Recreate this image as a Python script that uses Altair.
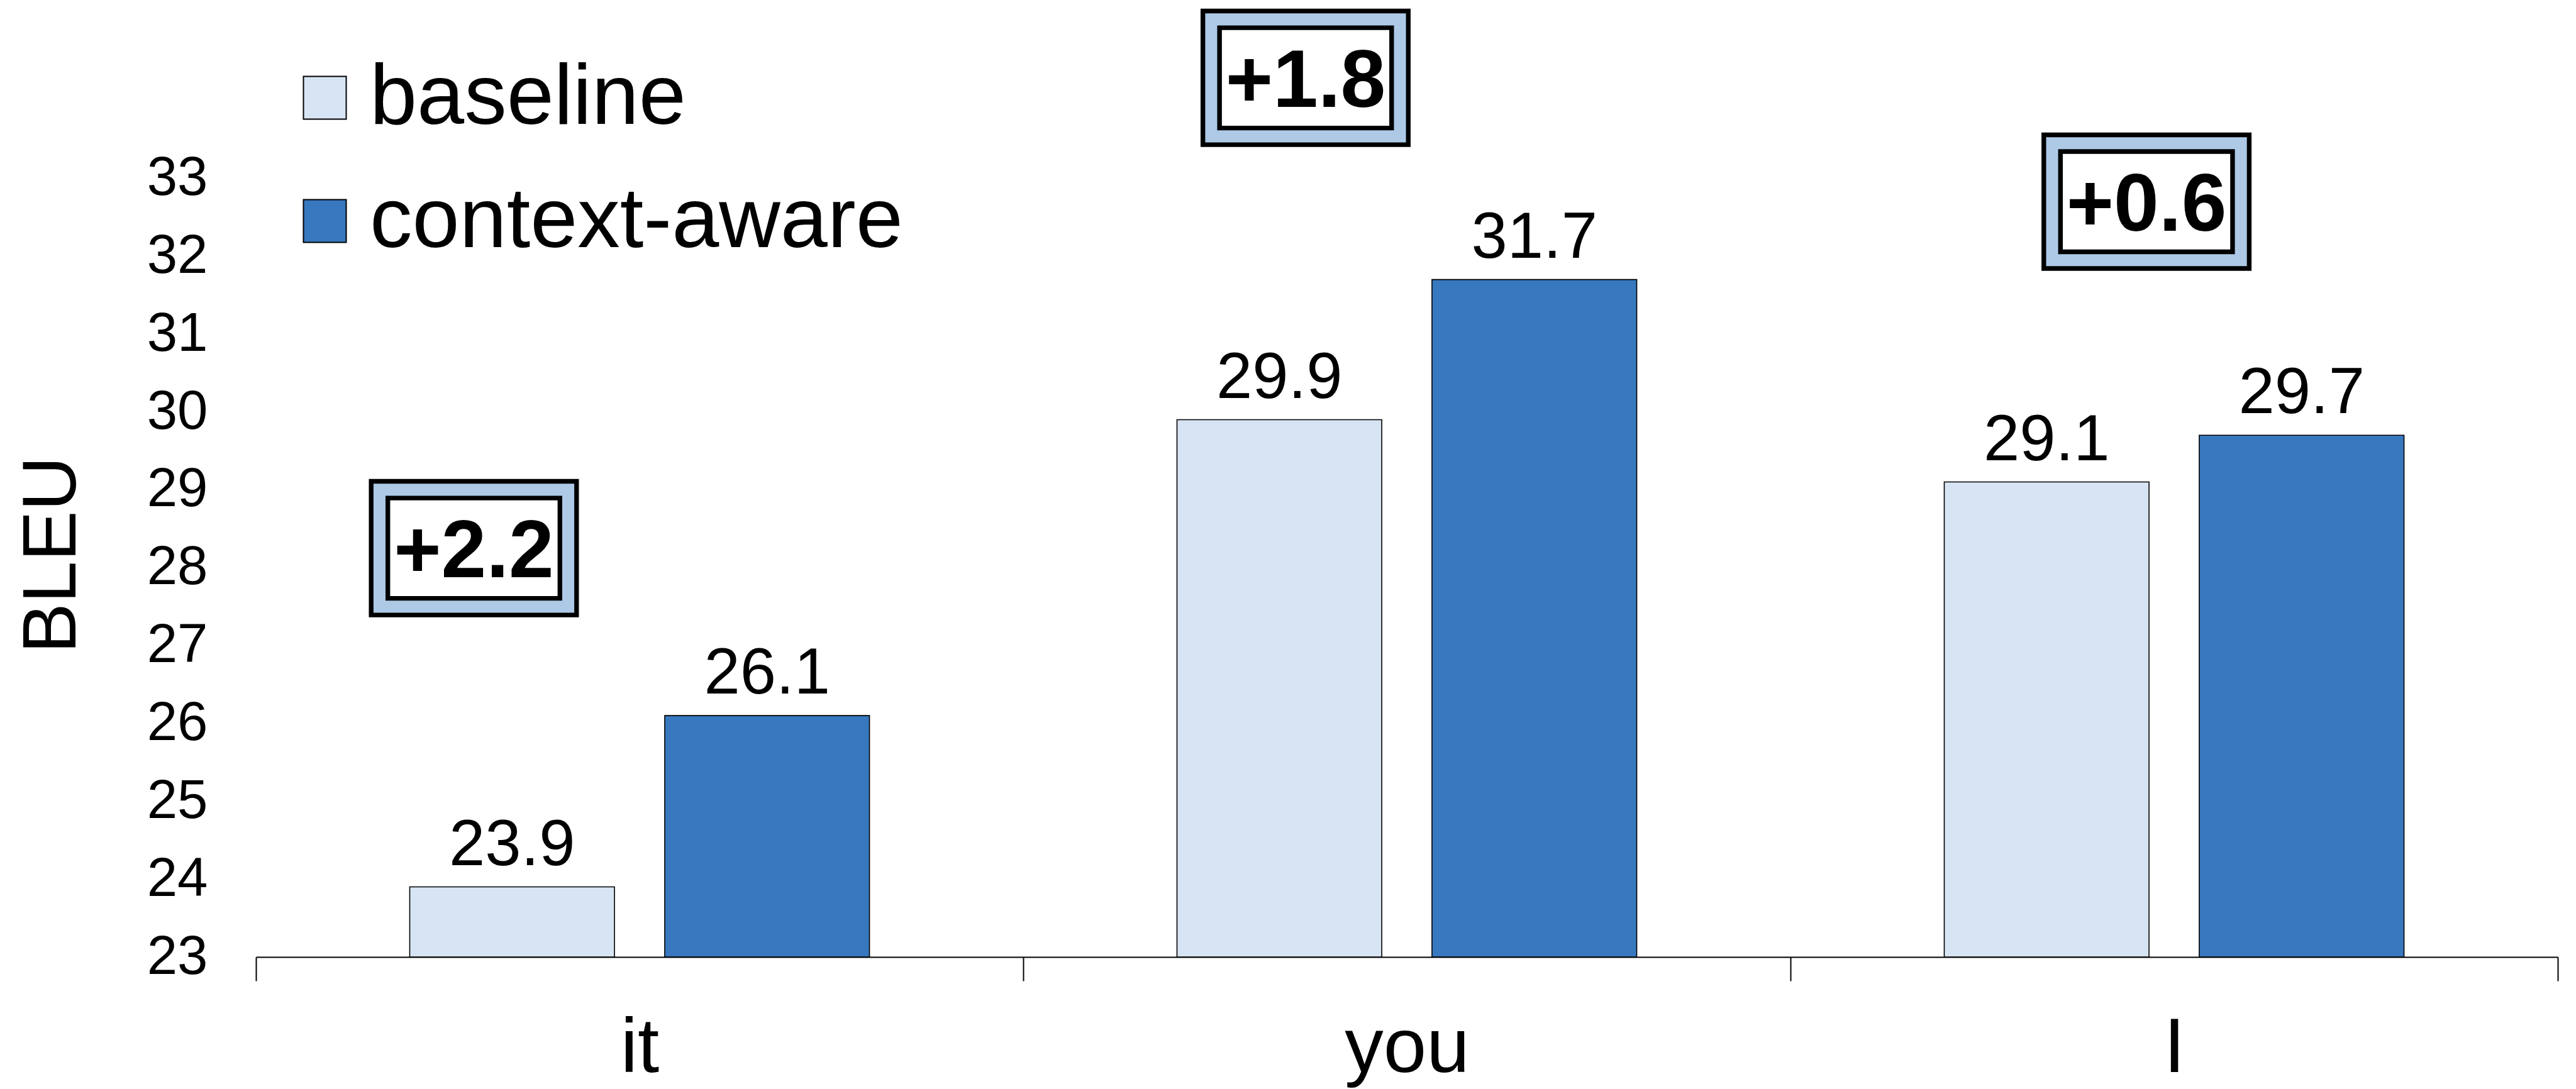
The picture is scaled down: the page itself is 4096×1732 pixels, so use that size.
import altair as alt
import pandas as pd

# BLEU scores per pronoun for the two systems
pronouns = ["it", "you", "I"]
systems = ["baseline", "context-aware"]
baseline_bleu = [23.9, 29.9, 29.1]
context_bleu = [26.1, 31.7, 29.7]

# where each gain callout sits: x in category units (0..3), y in BLEU
callout_x = [0.284, 1.368, 2.464]
callout_y = [28.25, 34.29, 32.70]

BLEU_FLOOR = 23
BLEU_TOP = 35.29
BLEU_TICKS = list(range(23, 34))

FONT = "Liberation Sans, Arial, Helvetica, sans-serif"
LIGHT = "#d7e4f3"
DARK = "#3878be"
BAND = "#adc9e6"

rows = []
for p, b, c in zip(pronouns, baseline_bleu, context_bleu):
    rows.append({"pronoun": p, "system": systems[0], "bleu": b})
    rows.append({"pronoun": p, "system": systems[1], "bleu": c})
bars_df = pd.DataFrame(rows)

gains_df = pd.DataFrame({
    "pos": callout_x,
    "bleu": callout_y,
    "gain": [f"+{c - b:.1f}" for b, c in zip(baseline_bleu, context_bleu)],
})

yscale = alt.Scale(domain=[BLEU_FLOOR, BLEU_TOP], nice=False, zero=False)
xband = alt.Scale(paddingInner=0, paddingOuter=0)
xoff_enc = alt.XOffset("system:N", sort=systems,
                       scale=alt.Scale(paddingInner=0.197, paddingOuter=0.603))

bars = alt.Chart(bars_df).mark_bar(stroke="black", strokeWidth=1.6).encode(
    x=alt.X("pronoun:N", sort=pronouns, title=None, scale=xband,
            axis=alt.Axis(labelAngle=0, labelLimit=0)),
    xOffset=xoff_enc,
    y=alt.Y("bleu:Q", scale=yscale, title="BLEU",
            axis=alt.Axis(values=BLEU_TICKS, format="d")),
    y2=alt.datum(BLEU_FLOOR),
    color=alt.Color(
        "system:N", sort=systems,
        scale=alt.Scale(domain=systems, range=[LIGHT, DARK]),
        legend=alt.Legend(title=None, orient="none", legendX=42, legendY=88),
    ),
)

values = alt.Chart(bars_df).mark_text(
    font=FONT, fontSize=103, baseline="alphabetic", align="center", dy=-35, color="black"
).encode(
    x=alt.X("pronoun:N", sort=pronouns, title=None, scale=xband, axis=None),
    xOffset=xoff_enc,
    y=alt.Y("bleu:Q", scale=yscale, title="BLEU"),
    text=alt.Text("bleu:Q", format=".1f"),
)

xcall = alt.X("pos:Q", scale=alt.Scale(domain=[0, 3], nice=False, zero=False), axis=None)
ycall = alt.Y("bleu:Q", scale=yscale, title="BLEU")

OUTER = "M-1,-0.651L1,-0.651L1,0.651L-1,0.651Z"
INNER = "M-1,-0.583L1,-0.583L1,0.583L-1,0.583Z"

outer_box = alt.Chart(gains_df).mark_point(
    shape=OUTER, size=106668, filled=True, fill=BAND, stroke="black",
    strokeWidth=7.4, opacity=1
).encode(x=xcall, y=ycall)

inner_box = alt.Chart(gains_df).mark_point(
    shape=INNER, size=74857, filled=True, fill="white", stroke="black",
    strokeWidth=7.4, opacity=1
).encode(x=xcall, y=ycall)

gain_text = alt.Chart(gains_df).mark_text(
    font=FONT, fontSize=129, fontWeight="bold", baseline="alphabetic",
    align="center", dy=46, color="black"
).encode(x=xcall, y=ycall, text="gain:N")

chart = (
    alt.layer(bars, values, outer_box, inner_box, gain_text)
    .resolve_scale(x="independent")
    .properties(
        width=3660, height=1522,
        padding={"left": 407, "top": 0, "right": 29, "bottom": 210},
        autosize=alt.AutoSizeParams(type="none"),
        background="white",
    )
    .configure_view(stroke=None)
    .configure_axis(labelFont=FONT, titleFont=FONT, labelColor="black",
                    titleColor="black", grid=False)
    .configure_axisX(domainColor="black", domainWidth=2, tickColor="black",
                     tickWidth=2, tickSize=38, labelFontSize=123, labelPadding=47,
                     tickBand="extent", labelLimit=0)
    .configure_axisY(domain=False, ticks=False, labelFontSize=87, labelPadding=77,
                     titleFontSize=120, titleFontWeight="normal", titleAngle=270,
                     titleX=-324, titleY=882, titleAlign="center",
                     titleBaseline="middle")
    .configure_legend(labelFont=FONT, labelFontSize=135, labelColor="black",
                      symbolType="square", symbolSize=4624, symbolStrokeColor="black",
                      symbolStrokeWidth=2, symbolOpacity=1, labelOffset=4,
                      rowPadding=60, padding=0, labelLimit=0)
)

chart.save("out.html", embed_options={"renderer": "svg", "actions": False})
